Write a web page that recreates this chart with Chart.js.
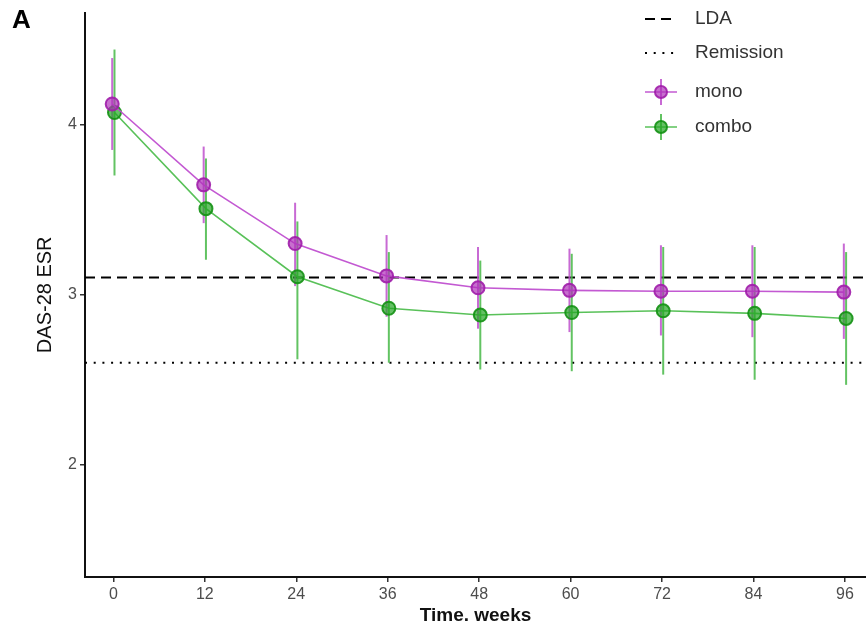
<!DOCTYPE html>
<html>
<head>
<meta charset="utf-8">
<script src="https://cdn.jsdelivr.net/npm/chart.js@4/dist/chart.umd.min.js"></script>
<style>
  html, body { margin: 0; padding: 0; background: #fff; }
  #wrap { width: 866px; height: 625px; }
</style>
</head>
<body>
<div id="wrap"><canvas id="c" width="866" height="625"></canvas></div>
<script>
// ---- data ----
const WEEKS = [0, 12, 24, 36, 48, 60, 72, 84, 96];
const MONO_MEAN  = [4.12, 3.645, 3.30, 3.11, 3.04, 3.025, 3.02, 3.02, 3.015];
const MONO_LOW   = [3.85, 3.42, 3.05, 2.87, 2.80, 2.78, 2.76, 2.75, 2.74];
const MONO_HIGH  = [4.39, 3.87, 3.54, 3.35, 3.28, 3.27, 3.29, 3.29, 3.30];
const COMBO_MEAN = [4.07, 3.505, 3.105, 2.92, 2.88, 2.895, 2.905, 2.89, 2.86];
const COMBO_LOW  = [3.70, 3.205, 2.62, 2.60, 2.56, 2.55, 2.53, 2.50, 2.47];
const COMBO_HIGH = [4.44, 3.80, 3.43, 3.25, 3.20, 3.24, 3.28, 3.28, 3.25];
const LDA = 3.1;
const REMISSION = 2.6;
const X_TICKS = [0, 12, 24, 36, 48, 60, 72, 84, 96];
const Y_TICKS = [2, 3, 4];
const SERIES_NAMES = ['mono', 'combo'];
const REF_NAMES = ['LDA', 'Remission'];

const DODGE = 0.15;
const FONT = '"Liberation Sans", Arial, Helvetica, sans-serif';

const COL = {
  mono:  { line: 'rgba(192,80,208,0.95)', fill: 'rgba(175,50,185,0.7)', border: 'rgba(160,30,170,0.9)', bar: 'rgba(190,80,205,0.85)' },
  combo: { line: 'rgba(80,190,80,0.95)',  fill: 'rgba(35,165,35,0.7)',  border: 'rgba(20,145,20,0.9)',  bar: 'rgba(70,185,70,0.85)' }
};

function pts(mean, off) { return WEEKS.map((w, i) => ({ x: w + off, y: mean[i] })); }

const errorBars = [
  { low: MONO_LOW, high: MONO_HIGH, off: -DODGE, color: COL.mono.bar },
  { low: COMBO_LOW, high: COMBO_HIGH, off: DODGE, color: COL.combo.bar }
];

const refLinesPlugin = {
  id: 'refLines',
  beforeDatasetsDraw(chart) {
    const { ctx, chartArea, scales } = chart;
    ctx.save();
    ctx.strokeStyle = '#000';
    ctx.lineWidth = 2;
    let y = scales.y.getPixelForValue(LDA);
    ctx.setLineDash([10, 6]);
    ctx.beginPath(); ctx.moveTo(chartArea.left, y); ctx.lineTo(chartArea.right, y); ctx.stroke();
    y = scales.y.getPixelForValue(REMISSION);
    ctx.setLineDash([2, 6.7]);
    ctx.beginPath(); ctx.moveTo(chartArea.left, y); ctx.lineTo(chartArea.right, y); ctx.stroke();
    ctx.restore();
    // error bars
    ctx.save();
    ctx.lineWidth = 2;
    errorBars.forEach(eb => {
      ctx.strokeStyle = eb.color;
      WEEKS.forEach((w, i) => {
        const x = scales.x.getPixelForValue(w + eb.off);
        ctx.beginPath();
        ctx.moveTo(x, scales.y.getPixelForValue(eb.low[i]));
        ctx.lineTo(x, scales.y.getPixelForValue(eb.high[i]));
        ctx.stroke();
      });
    });
    ctx.restore();
  }
};

const annotPlugin = {
  id: 'annot',
  afterDraw(chart) {
    const ctx = chart.ctx;
    ctx.save();
    // panel label
    ctx.fillStyle = '#000';
    ctx.font = 'bold 26px ' + FONT;
    ctx.textBaseline = 'middle';
    ctx.fillText('A', 12, 21);
    // legend
    const x0 = 645, x1 = 677, tx = 695;
    ctx.font = '19px ' + FONT;
    ctx.fillStyle = '#333';
    const rows = [19, 53, 92, 127];
    ctx.strokeStyle = '#000';
    ctx.lineWidth = 2;
    ctx.setLineDash([10, 6]);
    ctx.beginPath(); ctx.moveTo(x0, rows[0]); ctx.lineTo(x1, rows[0]); ctx.stroke();
    ctx.setLineDash([2, 6.7]);
    ctx.beginPath(); ctx.moveTo(x0, rows[1]); ctx.lineTo(x1, rows[1]); ctx.stroke();
    ctx.setLineDash([]);
    ctx.fillText(REF_NAMES[0], tx, rows[0]);
    ctx.fillText(REF_NAMES[1], tx, rows[1]);
    [COL.mono, COL.combo].forEach((c, k) => {
      const y = rows[2 + k], cx = (x0 + x1) / 2;
      ctx.strokeStyle = c.line; ctx.lineWidth = 1.5;
      ctx.beginPath(); ctx.moveTo(x0, y); ctx.lineTo(x1, y); ctx.stroke();
      ctx.strokeStyle = c.bar; ctx.lineWidth = 2;
      ctx.beginPath(); ctx.moveTo(cx, y - 13); ctx.lineTo(cx, y + 13); ctx.stroke();
      ctx.fillStyle = c.fill; ctx.strokeStyle = c.border; ctx.lineWidth = 2;
      ctx.beginPath(); ctx.arc(cx, y, 6, 0, Math.PI * 2); ctx.fill(); ctx.stroke();
      ctx.fillStyle = '#333';
      ctx.fillText(SERIES_NAMES[k], tx, y);
    });
    ctx.restore();
  }
};

new Chart(document.getElementById('c'), {
  type: 'line',
  data: {
    datasets: [
      { label: SERIES_NAMES[0], data: pts(MONO_MEAN, -DODGE), borderColor: COL.mono.line, borderWidth: 1.6,
        pointRadius: 6.5, pointBackgroundColor: COL.mono.fill, pointBorderColor: COL.mono.border, pointBorderWidth: 2, tension: 0 },
      { label: SERIES_NAMES[1], data: pts(COMBO_MEAN, DODGE), borderColor: COL.combo.line, borderWidth: 1.6,
        pointRadius: 6.5, pointBackgroundColor: COL.combo.fill, pointBorderColor: COL.combo.border, pointBorderWidth: 2, tension: 0 }
    ]
  },
  options: {
    responsive: false,
    animation: false,
    events: [],
    layout: { autoPadding: false, padding: { top: 10, right: 0, left: 0, bottom: 0 } },
    plugins: { legend: { display: false }, tooltip: { enabled: false } },
    scales: {
      x: {
        type: 'linear', min: -3.72, max: 98.76,
        afterBuildTicks(s) { s.ticks = X_TICKS.map(v => ({ value: v })); },
        afterFit(s) { s.height = 48; },
        ticks: { color: '#4d4d4d', font: { family: FONT, size: 16 }, padding: 3, maxRotation: 0, autoSkip: false },
        grid: { drawOnChartArea: false, drawTicks: true, tickLength: 5, color: '#333', lineWidth: 1.5 },
        border: { color: '#111', width: 2 },
        title: { display: true, text: 'Time. weeks', color: '#111', font: { family: FONT, size: 19, weight: 'bold', lineHeight: 1.0 }, padding: { top: 0, bottom: 0 } }
      },
      y: {
        type: 'linear', min: 1.341, max: 4.657,
        afterBuildTicks(s) { s.ticks = Y_TICKS.map(v => ({ value: v })); },
        afterFit(s) { s.width = 85; },
        ticks: { color: '#4d4d4d', font: { family: FONT, size: 16 }, padding: 3 },
        grid: { drawOnChartArea: false, drawTicks: true, tickLength: 5, color: '#333', lineWidth: 1.5 },
        border: { color: '#111', width: 2 },
        title: { display: true, text: 'DAS-28 ESR', color: '#111', font: { family: FONT, size: 20, lineHeight: 1.0 }, padding: { top: 35, bottom: 0 } }
      }
    }
  },
  plugins: [refLinesPlugin, annotPlugin]
});
</script>
</body>
</html>
